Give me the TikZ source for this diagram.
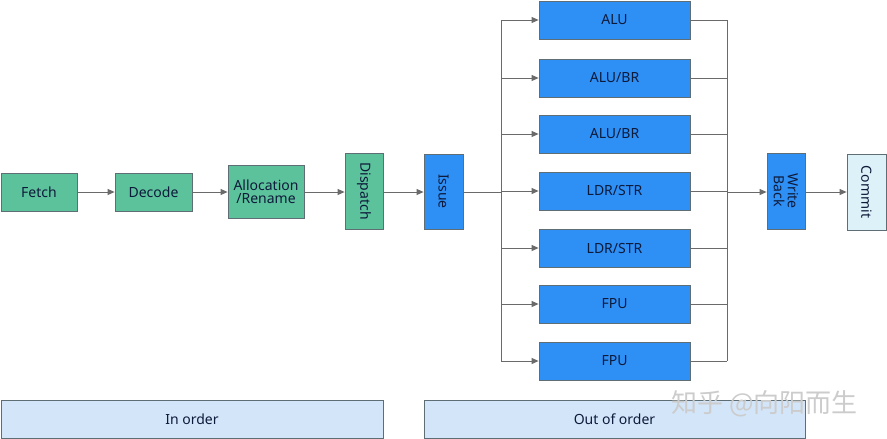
\documentclass[tikz,border=0pt]{standalone}
\usepackage{fontspec}
\setmainfont{Noto Sans}
\newfontfamily\cjk{Noto Sans CJK SC}
\usetikzlibrary{arrows.meta}
\definecolor{grn}{HTML}{5CC29C}
\definecolor{blu}{HTML}{2E8FF5}
\definecolor{cmt}{HTML}{DDF2F8}
\definecolor{ord}{HTML}{D3E5F8}
\definecolor{bord}{HTML}{5E6E74}
\definecolor{ln}{HTML}{6A6A6A}
\definecolor{txt}{HTML}{0E1A3A}
\tikzset{
  lbl/.style={text=txt, font=\fontsize{14}{16}\selectfont},
  box/.style={draw=bord, line width=0.8pt, lbl, inner sep=0pt, align=center},
  gbox/.style={box, fill=grn},
  bbox/.style={box, fill=blu},
  conn/.style={draw=ln, line width=0.9pt},
  arr/.style={conn, -{Triangle[length=7pt,width=6pt]}},
}
\begin{document}
\begin{tikzpicture}[x=1pt,y=-1pt]
\useasboundingbox (0,0) rectangle (887,439);
% in-order stage
\node[gbox, minimum width=76pt, minimum height=38pt] (fetch) at (39,192) {Fetch};
\node[gbox, minimum width=77pt, minimum height=38pt] (decode) at (153.5,192) {Decode};
\node[gbox, minimum width=76pt, minimum height=53pt] (alloc) at (266,191.5) {Allocation\\[-3pt]/Rename};
\node[gbox, minimum width=38pt, minimum height=76pt] (disp) at (364,191) {};
\node[rotate=-90, lbl] at (disp.center) {Dispatch};
\node[bbox, minimum width=39pt, minimum height=75pt] (issue) at (443.5,191.5) {};
\node[rotate=-90, lbl] at (issue.center) {Issue};
% execution units
\foreach \n/\y/\t in {u1/20/{ALU}, u2/78/{ALU/BR}, u3/134/{ALU/BR}, u4/191/{LDR/STR}, u5/248/{LDR/STR}, u6/304/{FPU}, u7/361/{FPU}}{
  \node[bbox, minimum width=151pt, minimum height=38pt] (\n) at (614.5,\y) {\t};
}
\node[bbox, minimum width=38pt, minimum height=76pt] (wb) at (786,191) {};
\node[rotate=-90, lbl, align=center] at (wb.center) {Write\\[-2pt]Back};
\node[box, fill=cmt, minimum width=39pt, minimum height=76pt] (commit) at (866.5,192) {};
\node[rotate=-90, lbl] at (commit.center) {Commit};
% order bars
\node[box, fill=ord, minimum width=382pt, minimum height=38pt] (inord) at (192,419) {In order};
\node[box, fill=ord, minimum width=381pt, minimum height=38pt] (outord) at (614.5,419) {Out of order};
% bus coordinates
\coordinate (lbt) at (501,20);
\coordinate (lbb) at (501,361);
\coordinate (lbm) at (501,192);
\coordinate (rbt) at (727,20);
\coordinate (rbb) at (727,361);
\coordinate (rbm) at (727,192);
% connectors
\draw[arr] (fetch) -- (decode);
\draw[arr] (decode) -- (alloc.west |- decode);
\draw[arr] (alloc.east |- decode) -- (disp.west |- decode);
\draw[arr] (disp.east |- decode) -- (issue.west |- decode);
\draw[conn] (issue.east |- lbm) -- (lbm);
\draw[conn] (lbt) -- (lbb);
\draw[conn] (rbt) -- (rbb);
\foreach \n in {u1,u2,u3,u4,u5,u6,u7}{
  \draw[arr] (lbt |- \n) -- (\n.west);
  \draw[conn] (\n.east) -- (rbt |- \n);
}
\draw[arr] (rbm) -- (wb.west |- rbm);
\draw[arr] (wb.east |- rbm) -- (commit.west |- rbm);
% watermark
\node[text=black!20, font=\cjk\fontsize{26}{28}\selectfont, anchor=west, inner sep=0pt] (wm) at (671,404) {知乎 @向阳而生};
\end{tikzpicture}
\end{document}
